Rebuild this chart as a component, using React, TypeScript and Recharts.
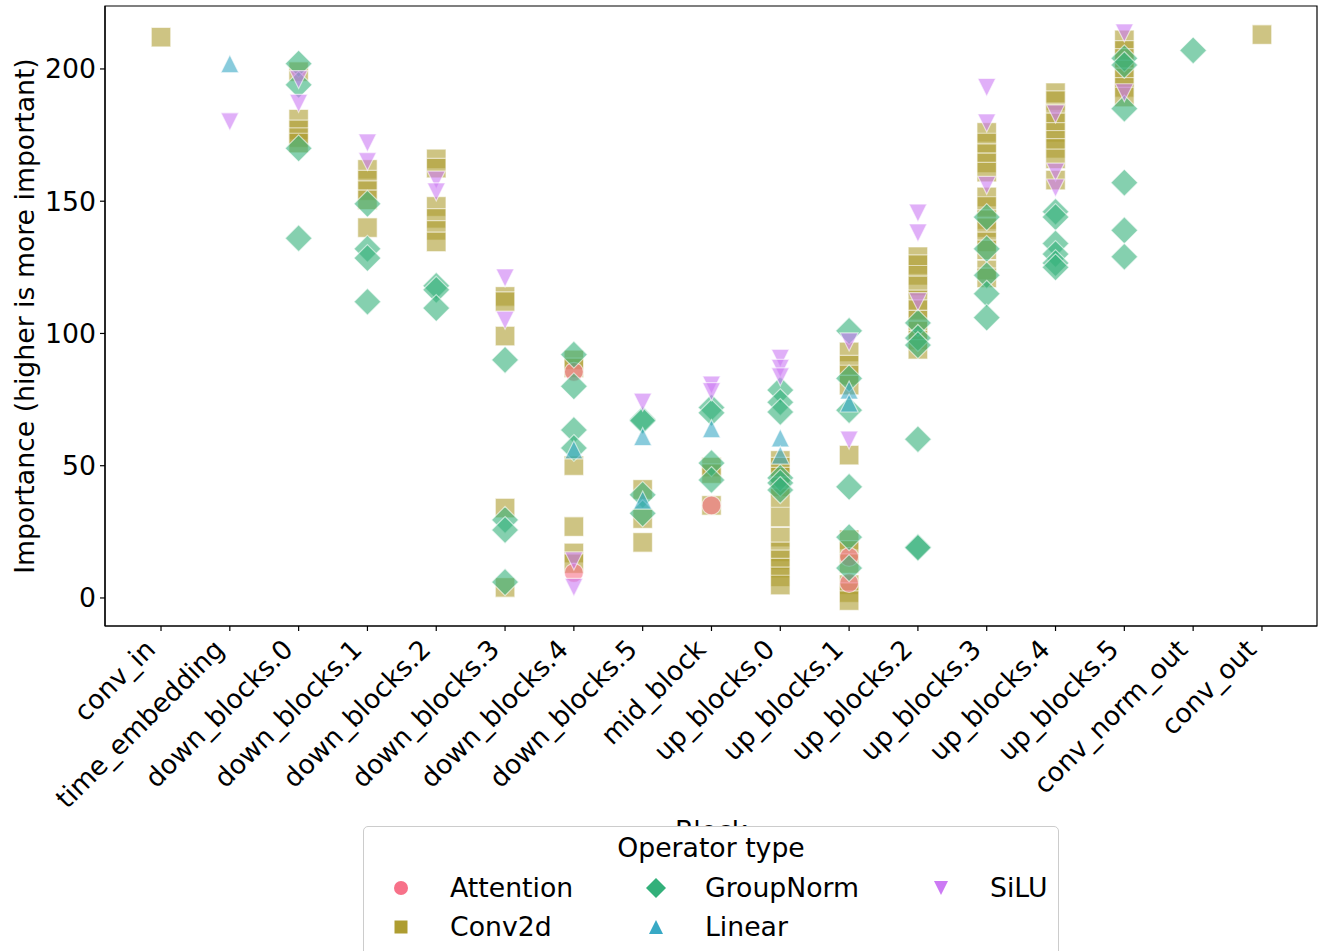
import { Label, ReferenceArea, Scatter, ScatterChart, XAxis, YAxis } from "recharts";

const blocks = [
  "conv_in",
  "time_embedding",
  "down_blocks.0",
  "down_blocks.1",
  "down_blocks.2",
  "down_blocks.3",
  "down_blocks.4",
  "down_blocks.5",
  "mid_block",
  "up_blocks.0",
  "up_blocks.1",
  "up_blocks.2",
  "up_blocks.3",
  "up_blocks.4",
  "up_blocks.5",
  "conv_norm_out",
  "conv_out",
];

const yTicks = [0, 50, 100, 150, 200];
const xDomain = [-0.814, 16.8];
const yDomain = [-10.6, 223.8];

// importance values per block, one list per operator type
const conv2dValues: [string, number[]][] = [
  ["conv_in", [212]],
  ["down_blocks.0", [199, 181, 177, 174, 172]],
  ["down_blocks.1", [162, 158, 154, 150.5, 140]],
  ["down_blocks.2", [166, 162.5, 148, 143.5, 139, 134.6]],
  ["down_blocks.3", [114, 112, 99, 34, 4]],
  ["down_blocks.4", [90, 87, 50, 27, 17, 13]],
  ["down_blocks.5", [41, 30, 21]],
  ["mid_block", [49.5, 47, 35]],
  ["up_blocks.0", [52, 49.5, 45.7, 42, 37.8, 30.6, 23, 17.4, 14.4, 11.3, 8, 4.9]],
  ["up_blocks.1", [93, 88, 84.3, 80.5, 54, 22, 18, 13, 5, 2, -1]],
  ["up_blocks.2", [129, 126, 122, 118, 112.7, 109, 105, 101, 97.5, 94]],
  ["up_blocks.3", [176, 172, 168, 164.5, 161, 151.6, 148, 143, 140, 134.6, 131.6, 124, 121]],
  ["up_blocks.4", [191, 188, 183, 179.6, 176, 173, 170, 166, 158]],
  ["up_blocks.5", [211, 207, 204, 199.6, 196.6, 193, 189.4]],
  ["conv_out", [213]],
];

const attentionValues: [string, number[]][] = [
  ["down_blocks.4", [85.5, 9.5]],
  ["mid_block", [35]],
  ["up_blocks.1", [15.5, 5.7]],
];

const groupNormValues: [string, number[]][] = [
  ["down_blocks.0", [202, 194, 170, 136]],
  ["down_blocks.1", [149, 132, 128.5, 112]],
  ["down_blocks.2", [118, 116.5, 109.6]],
  ["down_blocks.3", [90, 29.5, 25.7, 6]],
  ["down_blocks.4", [92, 80, 63.5, 56.7]],
  ["down_blocks.5", [67.5, 67, 39, 32]],
  ["mid_block", [72, 70, 51, 44.6]],
  ["up_blocks.0", [78.6, 74, 70.3, 45.4, 43.5, 40.8]],
  ["up_blocks.1", [101, 83, 71, 42, 23, 11.3]],
  ["up_blocks.2", [104, 98.3, 95.6, 60, 19.3, 19]],
  ["up_blocks.3", [144, 132, 122, 115, 106]],
  ["up_blocks.4", [146, 144, 134, 130, 126.6, 125]],
  ["up_blocks.5", [204, 201.5, 185, 157, 139, 129]],
  ["conv_norm_out", [207]],
];

const linearValues: [string, number[]][] = [
  ["time_embedding", [202]],
  ["down_blocks.4", [56]],
  ["down_blocks.5", [61, 37]],
  ["mid_block", [64]],
  ["up_blocks.0", [60.5, 54]],
  ["up_blocks.1", [78.6, 73.7]],
];

const siluValues: [string, number[]][] = [
  ["time_embedding", [180]],
  ["down_blocks.0", [196, 187]],
  ["down_blocks.1", [172, 165]],
  ["down_blocks.2", [158, 153.5]],
  ["down_blocks.3", [121, 105]],
  ["down_blocks.4", [14, 4]],
  ["down_blocks.5", [74]],
  ["mid_block", [80.5, 78]],
  ["up_blocks.0", [90.6, 86.8, 83.6]],
  ["up_blocks.1", [96.8, 59.7]],
  ["up_blocks.2", [145.5, 138, 112]],
  ["up_blocks.3", [193, 179.6, 156]],
  ["up_blocks.4", [183, 161, 155]],
  ["up_blocks.5", [213.6, 191]],
];

const colors: any = {
  Attention: "#f77189",
  Conv2d: "#ae9d31",
  GroupNorm: "#33b07a",
  Linear: "#38a9c5",
  SiLU: "#cc7af4",
};

const FONT = "DejaVu Sans";
const FS = 26.7;

const toPoints = (list: [string, number[]][]) =>
  list.flatMap(([block, vals]) => vals.map(v => ({ x: blocks.indexOf(block), y: v })));

const markerPath = (kind: string, cx: number, cy: number, r: number) => {
  if (kind === "diamond") return `M${cx},${cy - r}L${cx + r},${cy}L${cx},${cy + r}L${cx - r},${cy}Z`;
  if (kind === "up") return `M${cx},${cy - r}L${cx + r},${cy + r}L${cx - r},${cy + r}Z`;
  if (kind === "down") return `M${cx},${cy + r}L${cx + r},${cy - r}L${cx - r},${cy - r}Z`;
  return `M${cx - r},${cy - r}h${2 * r}v${2 * r}h${-2 * r}Z`;
};

const makeShape = (kind: string, color: string, r: number) => (props: any) => {
  const { cx, cy } = props;
  if (kind === "circle") {
    return (
      <circle cx={cx} cy={cy} r={r} fill={color} fillOpacity={0.6} stroke="#fff" strokeOpacity={0.6} strokeWidth={1.2} />
    );
  }
  return (
    <path d={markerPath(kind, cx, cy, r)} fill={color} fillOpacity={0.6} stroke="#fff" strokeOpacity={0.6} strokeWidth={1.2} />
  );
};

const XTick = (props: any) => {
  const { x, y, payload } = props;
  const ax = x - 4;
  const ay = y + 18;
  return (
    <text x={ax} y={ay} textAnchor="end" fontSize={FS} fontFamily={FONT} fill="#000" transform={`rotate(-45, ${ax}, ${ay})`}>
      {blocks[payload.value]}
    </text>
  );
};

const LegendMarker = ({ kind, color, r }: any) => (
  <svg width={30} height={30} style={{ display: "block" }}>
    {kind === "circle" ? (
      <circle cx={15} cy={15} r={r} fill={color} />
    ) : (
      <path d={markerPath(kind, 15, 15, r)} fill={color} />
    )}
  </svg>
);

const legendItems = [
  { name: "Attention", kind: "circle", r: 7, left: 386, top: 873 },
  { name: "Conv2d", kind: "square", r: 6.5, left: 386, top: 912 },
  { name: "GroupNorm", kind: "diamond", r: 10, left: 641, top: 873 },
  { name: "Linear", kind: "up", r: 7, left: 641, top: 912 },
  { name: "SiLU", kind: "down", r: 7, left: 926, top: 873 },
];

export default function App() {
  return (
    <div style={{ position: "absolute", left: 0, top: 0, width: 1324, height: 951, background: "#fff", fontFamily: FONT, overflow: "hidden" }}>
      <ScatterChart width={1324} height={951} margin={{ top: 6, right: 7, bottom: 0, left: 0 }}>
        <XAxis
          dataKey="x"
          type="number"
          domain={xDomain}
          ticks={blocks.map((_, i) => i)}
          interval={0}
          height={325}
          tick={<XTick />}
          tickSize={5}
          stroke="#000"
          strokeWidth={1.2}
          allowDataOverflow
        >
          <Label
            content={() => (
              <text x={711} y={840} textAnchor="middle" fontSize={FS} fontFamily={FONT} fill="#000">
                Block
              </text>
            )}
          />
        </XAxis>
        <YAxis
          dataKey="y"
          type="number"
          domain={yDomain}
          ticks={yTicks}
          width={105}
          tickSize={5}
          tickMargin={4}
          stroke="#000"
          strokeWidth={1.2}
          tick={{ fontSize: FS, fontFamily: FONT, fill: "#000" }}
          allowDataOverflow
        >
          <Label
            content={() => (
              <text x={34} y={316} textAnchor="middle" fontSize={FS} fontFamily={FONT} fill="#000" transform="rotate(-90, 34, 316)">
                Importance (higher is more important)
              </text>
            )}
          />
        </YAxis>
        <ReferenceArea x1={xDomain[0]} x2={xDomain[1]} y1={yDomain[0]} y2={yDomain[1]} fill="none" stroke="#000" strokeWidth={1.2} ifOverflow="visible" />
        <Scatter name="Conv2d" data={toPoints(conv2dValues)} shape={makeShape("square", colors.Conv2d, 9.75)} isAnimationActive={false} />
        <Scatter name="Attention" data={toPoints(attentionValues)} shape={makeShape("circle", colors.Attention, 9.5)} isAnimationActive={false} />
        <Scatter name="GroupNorm" data={toPoints(groupNormValues)} shape={makeShape("diamond", colors.GroupNorm, 13.5)} isAnimationActive={false} />
        <Scatter name="Linear" data={toPoints(linearValues)} shape={makeShape("up", colors.Linear, 9)} isAnimationActive={false} />
        <Scatter name="SiLU" data={toPoints(siluValues)} shape={makeShape("down", colors.SiLU, 9)} isAnimationActive={false} />
      </ScatterChart>

      <div
        style={{
          position: "absolute",
          left: 363,
          top: 826,
          width: 694,
          height: 140,
          background: "#fff",
          border: "1px solid #cccccc",
          borderRadius: 5,
        }}
      />
      <div style={{ position: "absolute", left: 363, width: 696, top: 831, textAlign: "center", fontSize: FS, lineHeight: "34px" }}>
        Operator type
      </div>
      {legendItems.map(item => (
        <div key={item.name}>
          <div style={{ position: "absolute", left: item.left, top: item.top }}>
            <LegendMarker kind={item.kind} color={colors[item.name]} r={item.r} />
          </div>
          <div style={{ position: "absolute", left: item.left + 64, top: item.top - 2, fontSize: FS, lineHeight: "34px" }}>
            {item.name}
          </div>
        </div>
      ))}
    </div>
  );
}
